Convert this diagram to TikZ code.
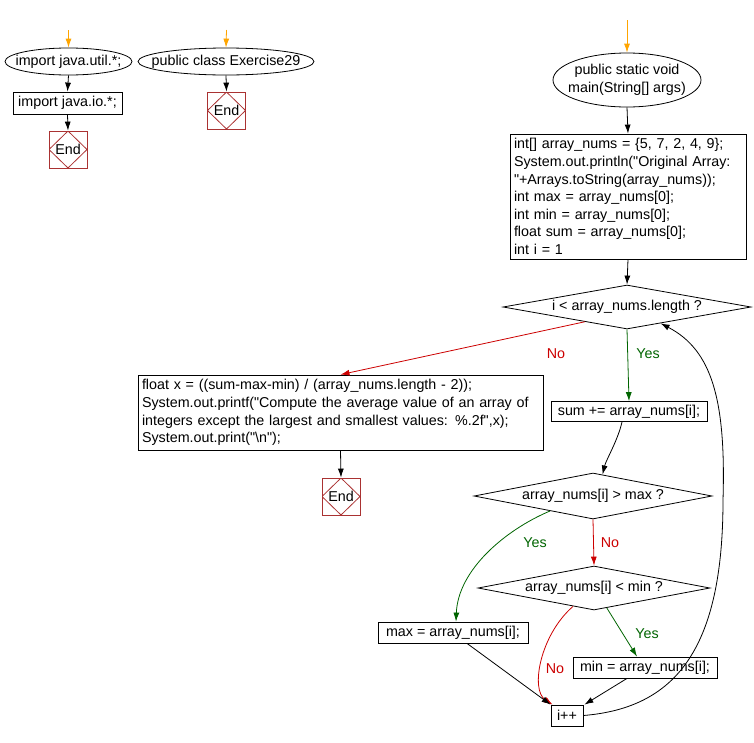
\documentclass[tikz,border=0pt]{standalone}
\usepackage{fontspec}
\newfontfamily\lib{Liberation Sans}
\usetikzlibrary{shapes.geometric,arrows.meta,calc}
\definecolor{endc}{RGB}{170,50,50}
\definecolor{noc}{RGB}{204,0,0}
\definecolor{yesc}{RGB}{0,100,0}
\definecolor{startc}{RGB}{255,165,0}
\newcommand{\zw}[1]{\makebox[0pt]{#1}}
\begin{document}
\begin{tikzpicture}[x=1pt,y=-1pt,
  every node/.style={font=\lib\fontsize{14.3}{17.6}\selectfont},
  box/.style={draw, rectangle, inner sep=0pt, line width=0.8pt},
  tbox/.style={draw, rectangle, inner xsep=4pt, inner ysep=0pt, align=left, line width=0.8pt},
  term/.style={draw, ellipse, inner sep=0pt, line width=0.8pt},
  dec/.style={draw, diamond, inner sep=0pt, line width=0.8pt},
  endn/.style={draw=endc, rectangle, inner sep=0pt, minimum width=38, minimum height=37, line width=0.8pt,
    path picture={\draw[endc, line width=0.8pt] (path picture bounding box.north) -- (path picture bounding box.east) -- (path picture bounding box.south) -- (path picture bounding box.west) -- cycle;}},
  arr/.style={-{Latex[length=9pt,width=6pt]}, line width=0.8pt},
  sarr/.style={arr, color=startc},
  noarr/.style={arr, color=noc},
  yesarr/.style={arr, color=yesc},
  nolab/.style={text=noc},
  yeslab/.style={text=yesc}
]
\useasboundingbox (0,0) rectangle (754,742);

% left column
\coordinate (s1) at (68.5,30);
\node[term, minimum width=127, minimum height=27] (e1) at (68.5,61.5) {\zw{import java.util.*;}};
\node[box, minimum width=109, minimum height=22] (b1) at (67.5,103) {import java.io.*;};
\node[endn] (end1) at (68,149.5) {End};

% middle column
\coordinate (s2) at (226.5,30);
\node[term, minimum width=176, minimum height=27] (e2) at (226,61.5) {\zw{public class Exercise29}};
\node[endn] (end2) at (226.5,110.5) {End};

% right column
\coordinate (s3) at (627,20);
\node[term, minimum width=148, minimum height=54] (e3) at (627,80) {\zw{\raisebox{-3pt}{\begin{tabular}{@{}c@{}}public static void\\main(String[] args)\end{tabular}}}};
\node[tbox, text width=228, minimum height=125] (main) at (628,196.5) {int[] array\_nums = \{5, 7, 2, 4, 9\};\\System.out.println("Original Array:\\"+Arrays.toString(array\_nums));\\int max = array\_nums[0];\\int min = array\_nums[0];\\float sum = array\_nums[0];\\int i = 1};
\node[dec, minimum width=248, minimum height=44] (d1) at (627,307) {\zw{i < array\_nums.length ?}};
\node[tbox, text width=397, minimum height=75] (flt) at (340.5,412.5) {float x = ((sum-max-min) / (array\_nums.length - 2));\\System.out.printf("Compute the average value of an array of\\integers except the largest and smallest values: \%.2f",x);\\System.out.print("\textbackslash n");};
\node[endn] (end3) at (341,496.5) {End};
\node[box, minimum width=156, minimum height=20] (sum) at (629,411.5) {sum += array\_nums[i];};
\node[dec, minimum width=238, minimum height=46] (d2) at (593,496) {\zw{array\_nums[i] > max ?}};
\node[dec, minimum width=232, minimum height=44] (d3) at (594,588) {\zw{array\_nums[i] < min ?}};
\node[box, minimum width=150, minimum height=21] (max) at (453,632.5) {max = array\_nums[i];};
\node[box, minimum width=144, minimum height=21] (min) at (645,667.5) {min = array\_nums[i];};
\node[box, minimum width=32, minimum height=21] (inc) at (567,715.5) {i++};

% connectors
\draw[sarr] (s1) -- (e1.north);
\draw[arr] (e1.south) -- (b1.north);
\draw[arr] (b1.south) -- (end1.north);
\draw[sarr] (s2) -- (e2.north);
\draw[arr] (e2.south) -- (end2.north);
\draw[sarr] (s3) -- (e3.north);
\draw[arr] (e3.south) -- (main.north);
\draw[arr] (main.south) -- (d1.north);
\draw[noarr] ($(d1.south)!0.34!(d1.west)$) -- (flt.north);
\node[nolab] (l1) at (556,354) {No};
\draw[yesarr] (d1.south) -- (sum.north);
\node[yeslab] (l2) at (648,354) {Yes};
\draw[arr] (flt.south) -- (end3.north);
\draw[arr] ($(sum.south)+(-7,0)$) .. controls (618,440) and (606,460) .. ($(d2.north)!0.08!(d2.east)$);
\draw[yesarr] ($(d2.south)!0.36!(d2.west)$) .. controls (505,530) and (458,570) .. ($(max.north)+(3,0)$);
\node[yeslab] (l3) at (535,543) {Yes};
\draw[noarr] (d2.south) -- (d3.north);
\node[nolab] (l4) at (610,543) {No};
\draw[yesarr] ($(d3.south)!0.11!(d3.east)$) -- ($(min.north)+(-8,0)$);
\node[yeslab] (l5) at (647,634) {Yes};
\draw[noarr] ($(d3.south)!0.18!(d3.west)$) .. controls (540,635) and (530,690) .. ($(inc.north west)+(2,0)$);
\node[nolab] (l6) at (555,669) {No};
\draw[arr] ($(max.south)+(14,0)$) -- (inc.north west);
\draw[arr] ($(min.south)+(-18,0)$) -- ($(inc.north east)+(1,0)$);
\draw[arr] (inc.east) .. controls (675,708) and (723,650) .. (723,500) .. controls (726,400) and (712,350) .. ($(d1.south)!0.27!(d1.east)$);
\end{tikzpicture}
\end{document}
